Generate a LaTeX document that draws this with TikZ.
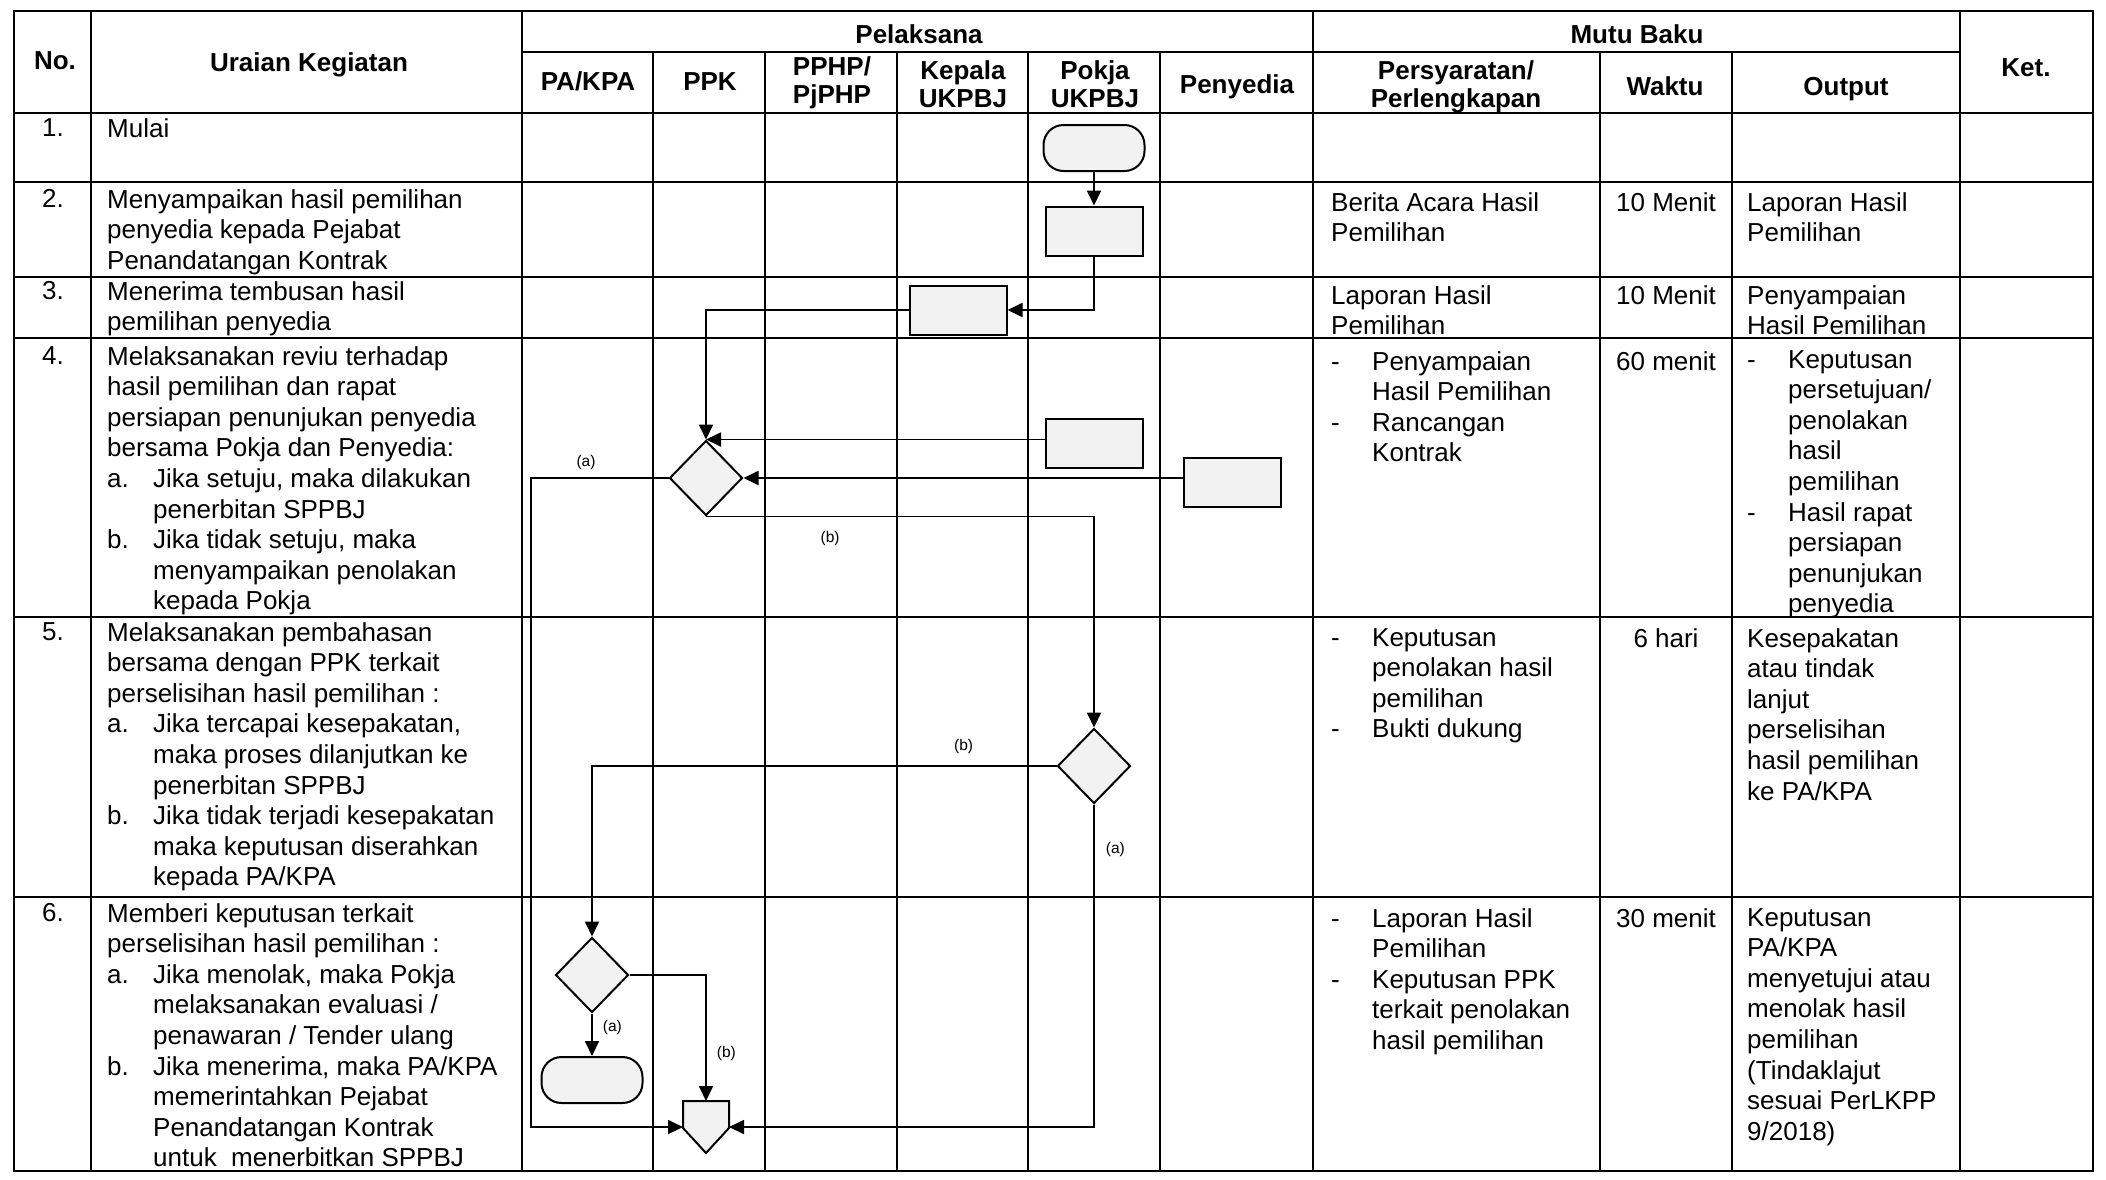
\documentclass[tikz,border=0pt]{standalone}
\usepackage{fontspec}
\setmainfont{Liberation Sans}
\usetikzlibrary{arrows.meta, shapes.geometric}

\newcommand{\itemab}[1]{\makebox[46pt][l]{#1}}
\newcommand{\indab}{\hspace*{46pt}}
\newcommand{\itemds}{\makebox[41pt][l]{-}}
\newcommand{\indds}{\hspace*{41pt}}

\begin{document}
\begin{tikzpicture}[x=1pt, y=-1pt, >={Triangle[length=15pt, width=14pt]},
    garis/.style={line width=1.6pt},
    alur/.style={->, line width=1.8pt},
    bentuk/.style={draw, line width=2pt, fill=black!5, inner sep=0pt},
    proses/.style={bentuk, rectangle, minimum width=97pt, minimum height=49pt},
    keputusan/.style={bentuk, diamond, minimum width=73pt, minimum height=75pt},
    terminal/.style={bentuk, rectangle, rounded corners=20pt, minimum width=101pt, minimum height=46pt},
    judul/.style={inner sep=0pt, align=center, font=\bfseries\fontsize{26}{28.5}\selectfont},
    isi/.style={inner sep=0pt, anchor=north west, align=left, font=\fontsize{26}{30.6}\selectfont},
    nomor/.style={inner sep=0pt, anchor=north, font=\fontsize{26}{30.6}\selectfont},
    lbl/.style={inner sep=1pt, font=\fontsize{15.5}{18}\selectfont}]
    \useasboundingbox (0,0) rectangle (2106,1179);

    % table grid
    \draw[garis] (14,11) rectangle (2093,1171);
    \draw[garis] (522,52) -- (1960,52);
    \draw[garis] (14,113) -- (2093,113) (14,182) -- (2093,182) (14,277) -- (2093,277)
        (14,338) -- (2093,338) (14,617) -- (2093,617) (14,897) -- (2093,897);
    \draw[garis] (91,11) -- (91,1171) (522,11) -- (522,1171) (1313,11) -- (1313,1171) (1960,11) -- (1960,1171);
    \draw[garis] (653,52) -- (653,1171) (765,52) -- (765,1171) (897,52) -- (897,1171)
        (1028,52) -- (1028,1171) (1160,52) -- (1160,1171) (1600,52) -- (1600,1171) (1732,52) -- (1732,1171);

    % header
    \node (hno) [judul, anchor=base] at (55,69) {No.};
    \node (hur) [judul, anchor=base] at (309,71) {Uraian Kegiatan};
    \node (hpl) [judul, anchor=base] at (919,43) {Pelaksana};
    \node (hmb) [judul, anchor=base] at (1637,43) {Mutu Baku};
    \node (hpa) [judul, anchor=base] at (588,90) {PA/KPA};
    \node (hppk) [judul, anchor=base] at (710,90) {PPK};
    \node (hpphp) [judul, anchor=north] at (832,56) {PPHP/\\PjPHP};
    \node (hkep) [judul, anchor=north] at (963,60) {Kepala\\UKPBJ};
    \node (hpok) [judul, anchor=north] at (1095,60) {Pokja\\UKPBJ};
    \node (hpy) [judul, anchor=base] at (1237,93) {Penyedia};
    \node (hsyr) [judul, anchor=north] at (1456,60) {Persyaratan/\\Perlengkapan};
    \node (hwkt) [judul, anchor=base] at (1665,95) {Waktu};
    \node (hout) [judul, anchor=base] at (1846,95) {Output};
    \node (hket) [judul, anchor=base] at (2026,76) {Ket.};

    % kegiatan
    \node (n1) [nomor] at (53,118) {1.};
    \node (n2) [nomor] at (53,189) {2.};
    \node (n3) [nomor] at (53,281) {3.};
    \node (n4) [nomor] at (53,346) {4.};
    \node (n5) [nomor] at (53,622) {5.};
    \node (n6) [nomor] at (53,903) {6.};
    \node (u1) [isi] at (107,118) {Mulai};
    \node (u2) [isi] at (107,189) {Menyampaikan hasil pemilihan\\penyedia kepada Pejabat\\Penandatangan Kontrak};
    \node (u3) [isi] at (107,281) {Menerima tembusan hasil\\pemilihan penyedia};
    \node (u4) [isi] at (107,346) {Melaksanakan reviu terhadap\\hasil pemilihan dan rapat\\persiapan penunjukan penyedia\\bersama Pokja dan Penyedia:\\
        \itemab{a.}Jika setuju, maka dilakukan\\\indab penerbitan SPPBJ\\
        \itemab{b.}Jika tidak setuju, maka\\\indab menyampaikan penolakan\\\indab kepada Pokja};
    \node (u5) [isi] at (107,622) {Melaksanakan pembahasan\\bersama dengan PPK terkait\\perselisihan hasil pemilihan :\\
        \itemab{a.}Jika tercapai kesepakatan,\\\indab maka proses dilanjutkan ke\\\indab penerbitan SPPBJ\\
        \itemab{b.}Jika tidak terjadi kesepakatan\\\indab maka keputusan diserahkan\\\indab kepada PA/KPA};
    \node (u6) [isi] at (107,903) {Memberi keputusan terkait\\perselisihan hasil pemilihan :\\
        \itemab{a.}Jika menolak, maka Pokja\\\indab melaksanakan evaluasi /\\\indab penawaran / Tender ulang\\
        \itemab{b.}Jika menerima, maka PA/KPA\\\indab memerintahkan Pejabat\\\indab Penandatangan Kontrak\\\indab untuk\ \ menerbitkan SPPBJ};

    % mutu baku
    \node (s2) [isi] at (1331,192) {Berita Acara Hasil\\Pemilihan};
    \node (s3) [isi] at (1331,285) {Laporan Hasil\\Pemilihan};
    \node (s4) [isi] at (1331,351) {\itemds Penyampaian\\\indds Hasil Pemilihan\\\itemds Rancangan\\\indds Kontrak};
    \node (s5) [isi] at (1331,628) {\itemds Keputusan\\\indds penolakan hasil\\\indds pemilihan\\\itemds Bukti dukung};
    \node (s6) [isi] at (1331,908) {\itemds Laporan Hasil\\\indds Pemilihan\\\itemds Keputusan PPK\\\indds terkait penolakan\\\indds hasil pemilihan};
    \node (w2) [nomor] at (1666,192) {10 Menit};
    \node (w3) [nomor] at (1666,285) {10 Menit};
    \node (w4) [nomor] at (1666,351) {60 menit};
    \node (w5) [nomor] at (1666,628) {6 hari};
    \node (w6) [nomor] at (1666,908) {30 menit};
    \node (o2) [isi] at (1747,192) {Laporan Hasil\\Pemilihan};
    \node (o3) [isi] at (1747,285) {Penyampaian\\Hasil Pemilihan};
    \node (o4) [isi] at (1747,350) {\itemds Keputusan\\\indds persetujuan/\\\indds penolakan\\\indds hasil\\\indds pemilihan\\
        \itemds Hasil rapat\\\indds persiapan\\\indds penunjukan\\\indds penyedia};
    \node (o5) [isi] at (1747,628) {Kesepakatan\\atau tindak\\lanjut\\perselisihan\\hasil pemilihan\\ke PA/KPA};
    \node (o6) [isi] at (1747,908) {Keputusan\\PA/KPA\\menyetujui atau\\menolak hasil\\pemilihan\\(Tindaklajut\\sesuai PerLKPP\\9/2018)};

    % flow shapes
    \node (mulai) [terminal] at (1094,148) {};
    \node (p2) [proses] at (1094,231) {};
    \node (k3) [proses] at (958,310) {};
    \node (pk4) [proses] at (1094,443) {};
    \node (py4) [proses] at (1232,482) {};
    \node (d4) [keputusan] at (706,478) {};
    \node (d5) [keputusan] at (1094,766) {};
    \node (d6) [keputusan] at (592,975) {};
    \node (akhir) [terminal] at (592,1080) {};
    \coordinate (offN) at (706,1101);
    \coordinate (offW) at (683,1127);
    \coordinate (offE) at (729,1127);
    \coordinate (kiri) at (531,1127);
    \draw[bentuk] (offN) ++(-23,0) -- ++(46,0) -- ++(0,27) -- ++(-23,25) -- ++(-23,-25) -- cycle;

    % connectors
    \draw[alur] (mulai) -- (p2);
    \draw[alur] (p2.south) |- (k3.east);
    \draw[alur] (k3.west) -| (d4.north);
    \draw[alur] (pk4.west |- d4.north) -- (d4.north);
    \draw[alur] (py4.west |- d4.east) -- (d4.east);
    \draw[alur] (d4.west) -| node[lbl, above=6pt, pos=0.3]{(a)} (kiri) -- (offW);
    \draw[alur] (d4.south) -| node[lbl, below=13pt, pos=0.16]{(b)} (d5.north);
    \draw[alur] (d5.west) -| node[lbl, above=10pt, pos=0.1]{(b)} (d6.north);
    \draw[alur] (d5.south) |- node[lbl, right=10pt, pos=0.07]{(a)} (offE);
    \draw[alur] (d6.south) -- node[lbl, right=9pt, pos=0.33]{(a)} (akhir.north);
    \draw[alur] (d6.east) -| node[lbl, right=9pt, pos=0.81]{(b)} (offN);
\end{tikzpicture}
\end{document}
